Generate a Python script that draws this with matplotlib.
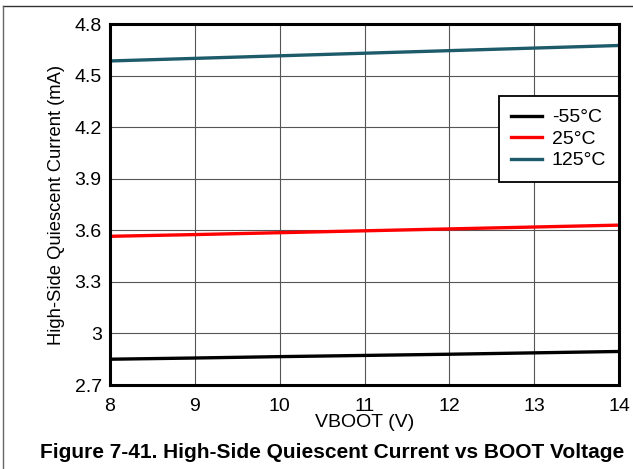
import matplotlib.pyplot as plt
from matplotlib.lines import Line2D

plt.rcParams['font.family'] = ['Liberation Sans', 'DejaVu Sans']

vboot = [8, 9, 10, 11, 12, 13, 14]
iq_m55 = [2.850, 2.857, 2.865, 2.872, 2.879, 2.887, 2.895]
iq_25 = [3.565, 3.575, 3.586, 3.597, 3.608, 3.619, 3.630]
iq_125 = [4.585, 4.600, 4.615, 4.630, 4.645, 4.660, 4.675]
labels = ['-55°C', '25°C', '125°C']
colors = ['#000000', '#ff0000', '#1d5b6b']

fig = plt.figure(figsize=(6.33, 4.69), dpi=100)
ax = fig.add_axes([110 / 633, 1 - 385 / 469, 509 / 633, 361 / 469])

for ys, lab, c in zip([iq_m55, iq_25, iq_125], labels, colors):
    ax.plot(vboot, ys, color=c, lw=2.4, label=lab)

ax.set_xlim(8, 14)
ax.set_ylim(2.7, 4.8)
ax.set_xticks(range(8, 15))
ax.set_yticks([2.7, 3.0, 3.3, 3.6, 3.9, 4.2, 4.5, 4.8])
ax.set_yticklabels(['2.7', '3', '3.3', '3.6', '3.9', '4.2', '4.5', '4.8'])
ax.tick_params(length=0, labelsize=14, pad=6)
ax.tick_params(axis='x', pad=9)
ax.grid(True, color='#555555', lw=0.8)
for s in ax.spines.values():
    s.set_linewidth(2.2)
ax.set_xlabel('VBOOT (V)', fontsize=14, va='center')
ax.xaxis.set_label_coords(0.5, -(422 - 385) / 361)
ax.set_ylabel('High-Side Quiescent Current (mA)', fontsize=13.2, labelpad=7)

leg = ax.legend(loc='upper right', bbox_to_anchor=(1.0, 0.80), fontsize=14,
                frameon=True, fancybox=False, edgecolor='black', framealpha=1,
                borderaxespad=0, handlelength=1.6, handletextpad=0.5,
                labelspacing=0.2, borderpad=0.65)
leg.get_frame().set_linewidth(1.3)

fig.text(0.525, 1 - 452 / 469, 'Figure 7-41. High-Side Quiescent Current vs BOOT Voltage',
         ha='center', va='center', fontsize=15, fontweight='bold')

fig.add_artist(Line2D([3 / 633, 1], [1 - 6 / 469, 1 - 6 / 469], color='#333333', lw=1))
fig.add_artist(Line2D([3 / 633, 3 / 633], [0, 1 - 6 / 469], color='#666666', lw=1))

fig.savefig('out.png', dpi=100)
